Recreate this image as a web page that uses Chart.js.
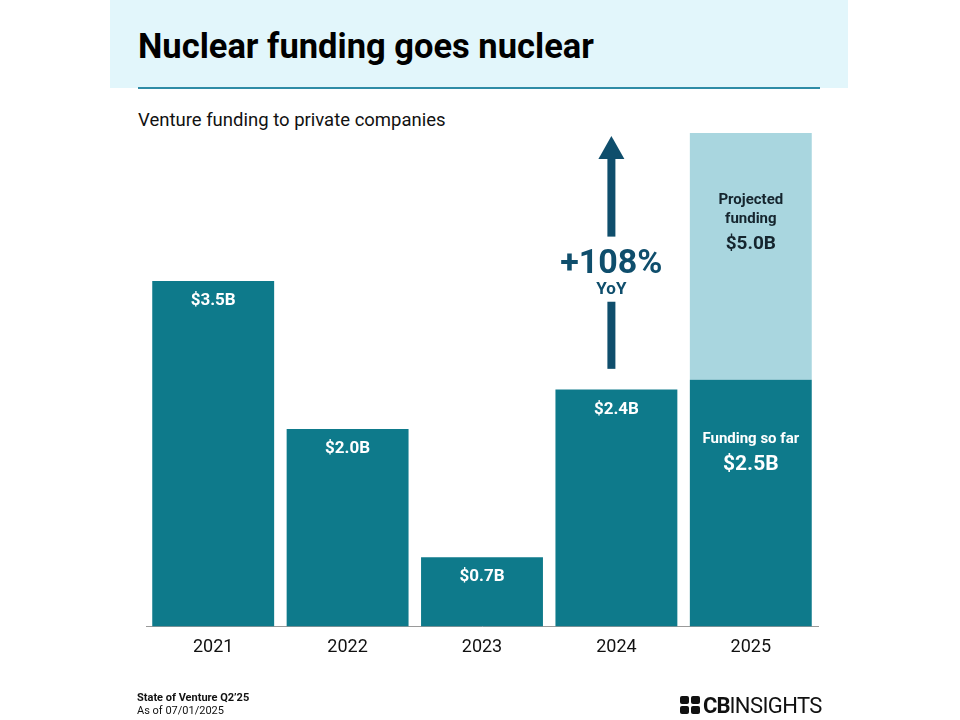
<!DOCTYPE html>
<html>
<head>
<meta charset="utf-8">
<script src="https://cdn.jsdelivr.net/npm/chart.js@4.4.1/dist/chart.umd.min.js"></script>
<style>
  html, body { margin: 0; padding: 0; background: #fff; }
  body { width: 960px; height: 720px; position: relative; overflow: hidden; font-family: Roboto, "Noto Sans", sans-serif; }
  .band { position: absolute; left: 110px; top: 0; width: 738px; height: 88px; background: #e2f6fb; }
  .rule { position: absolute; left: 138px; top: 87px; width: 682px; height: 2px; background: #2f8ca6; }
  .title { position: absolute; left: 138px; top: 29px; font-size: 34.5px; line-height: 34px; font-weight: 700; color: #000; white-space: nowrap; }
  .subtitle { position: absolute; left: 138px; top: 111px; font-size: 18.5px; line-height: 18px; color: #111; white-space: nowrap; }
  .source { position: absolute; left: 137px; top: 691px; font-size: 11px; line-height: 13px; color: #111; }
  .source b { font-weight: 700; }
  .logo { position: absolute; left: 680px; top: 694px; height: 22px; display: flex; align-items: center; color: #111; }
  .logo .cb { font-weight: 700; font-size: 22px; letter-spacing: -1px; margin-left: 3px; }
  .logo .ins { font-weight: 400; font-size: 22px; letter-spacing: -0.6px; }
  canvas { position: absolute; left: 0; top: 0; }
</style>
</head>
<body>
<div class="band"></div>
<div class="rule"></div>
<div class="title">Nuclear funding goes nuclear</div>
<div class="subtitle">Venture funding to private companies</div>
<canvas id="chart" width="960" height="720"></canvas>
<div class="source"><b>State of Venture Q2’25</b><br>As of 07/01/2025</div>
<div class="logo">
  <svg width="20" height="18" viewBox="0 0 20 18">
    <rect x="0" y="0" width="9" height="8" rx="2" fill="#111"/>
    <rect x="11" y="0" width="9" height="8" rx="2" fill="#111"/>
    <rect x="0" y="10" width="9" height="8" rx="2" fill="#111"/>
    <rect x="11" y="10" width="9" height="8" rx="2" fill="#111"/>
  </svg>
  <span class="cb">CB</span><span class="ins">INSIGHTS</span>
</div>
<script>
const years = ['2021', '2022', '2023', '2024', '2025'];
const fundingSoFar = [3.5, 2.0, 0.7, 2.4, 2.5];
const projectedExtra = [0, 0, 0, 0, 2.5];
const barLabels = ['$3.5B', '$2.0B', '$0.7B', '$2.4B', '$2.5B'];
const projectedTotal = '$5.0B';
const yoyChange = '+108%';

const darkTeal = '#0e7a8b';
const lightTeal = '#a9d6df';
const arrowColor = '#0f4e6c';

// labels and the YoY arrow, placed through the chart's scales
const annotations = {
    id: 'annotations',
    afterDatasetsDraw(chart) {
        const ctx = chart.ctx;
        const x = chart.scales.x;
        const y = chart.scales.y;
        const bars = chart.getDatasetMeta(0).data;
        const proj = chart.getDatasetMeta(1).data;

        ctx.save();
        ctx.textAlign = 'center';
        ctx.textBaseline = 'alphabetic';
        ctx.fillStyle = '#fff';

        for (let i = 0; i < 4; i++) {
            ctx.font = 'bold 17px Roboto';
            ctx.fillText(barLabels[i], bars[i].x, bars[i].y + 24);
        }

        // 2025 bar: funding so far
        const b = bars[4];
        ctx.font = 'bold 15px Roboto';
        ctx.fillText('Funding so far', b.x, b.y + 63);
        ctx.font = 'bold 21px Roboto';
        ctx.fillText(barLabels[4], b.x, b.y + 90);

        // 2025 bar: projected
        const p = proj[4];
        ctx.fillStyle = '#15252e';
        ctx.font = 'bold 15px Roboto';
        ctx.fillText('Projected', p.x, p.y + 71);
        ctx.fillText('funding', p.x, p.y + 90);
        ctx.font = 'bold 19px Roboto';
        ctx.fillText(projectedTotal, p.x, p.y + 116);

        // YoY arrow above 2024
        const ax = x.getPixelForValue(3) - 5;
        const tip = y.getPixelForValue(4.97);
        const headBase = tip + 23;
        ctx.fillStyle = arrowColor;
        ctx.beginPath();
        ctx.moveTo(ax, tip);
        ctx.lineTo(ax + 13, headBase);
        ctx.lineTo(ax - 13, headBase);
        ctx.closePath();
        ctx.fill();
        ctx.fillRect(ax - 4, headBase, 8, y.getPixelForValue(3.95) - headBase);
        const lowTop = y.getPixelForValue(3.29);
        ctx.fillRect(ax - 4, lowTop, 8, y.getPixelForValue(2.61) - lowTop);

        ctx.font = 'bold 34px Roboto';
        ctx.fillText(yoyChange, ax, y.getPixelForValue(3.58));
        ctx.font = 'bold 17px Roboto';
        ctx.fillText('YoY', ax, y.getPixelForValue(3.37));
        ctx.restore();
    }
};

new Chart(document.getElementById('chart'), {
    type: 'bar',
    data: {
        labels: years,
        datasets: [
            {
                label: 'Funding so far',
                data: fundingSoFar,
                backgroundColor: darkTeal,
                categoryPercentage: 1,
                barPercentage: 0.907
            },
            {
                label: 'Projected funding',
                data: projectedExtra,
                backgroundColor: lightTeal,
                categoryPercentage: 1,
                barPercentage: 0.907
            }
        ]
    },
    options: {
        responsive: false,
        animation: false,
        layout: { padding: { left: 146, right: 142, top: 133, bottom: 52 } },
        plugins: { legend: { display: false }, tooltip: { enabled: false } },
        scales: {
            x: {
                stacked: true,
                grid: { display: false, drawTicks: false },
                border: { display: true, color: '#9a9a9a', width: 1 },
                ticks: { color: '#111', font: { family: 'Roboto', size: 18 }, padding: 10 }
            },
            y: {
                stacked: true,
                display: false,
                min: 0,
                max: 5
            }
        }
    },
    plugins: [annotations]
});
</script>
</body>
</html>
